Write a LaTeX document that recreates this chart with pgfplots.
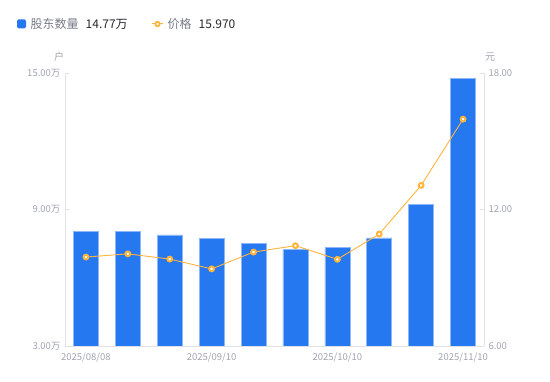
\documentclass[border=0pt]{standalone}
\usepackage{fontspec}
\setmainfont{Noto Sans CJK SC}
\usepackage{pgfplots}
\pgfplotsset{compat=1.18}
\definecolor{barblue}{RGB}{38,120,240}
\definecolor{baredge}{RGB}{140,182,248}
\definecolor{lineorange}{RGB}{255,180,60}
\definecolor{axgray}{RGB}{224,226,232}
\definecolor{tickgray}{RGB}{160,163,176}
\definecolor{leggray}{RGB}{120,123,135}
\definecolor{legdark}{RGB}{40,40,45}
\begin{document}
\begin{tikzpicture}[x=1pt,y=1pt]
\path[use as bounding box] (0,0) rectangle (550,381);
\begin{axis}[
  at={(65pt,35pt)}, anchor=south west, scale only axis,
  width=419pt, height=273pt,
  xmin=-0.5, xmax=9.5, ymin=3, ymax=15,
  axis y line*=left, axis x line*=bottom,
  axis line style={draw=axgray, line width=0.8pt, -},
  ytick={3,9,15}, yticklabels={3.00万,9.00万,15.00万},
  xtick={0,3,6,9}, xticklabels={2025/08/08,2025/09/10,2025/10/10,2025/11/10},
  major tick length=4pt,
  ytick style={draw=axgray, line width=0.8pt},
  xtick style={draw=none},
  tick label style={font=\fontsize{9.5}{11}\selectfont, text=tickgray},
  yticklabel style={xshift=-1pt},
  xticklabel style={yshift=1pt},
  ybar, bar width=25pt,
]
\addplot[fill=barblue, draw=baredge, line width=0.6pt] coordinates {
 (0,8.03) (1,8.03) (2,7.88) (3,7.72) (4,7.50)
 (5,7.23) (6,7.34) (7,7.75) (8,9.21) (9,14.77)};
\end{axis}
\begin{axis}[
  at={(65pt,35pt)}, anchor=south west, scale only axis,
  width=419pt, height=273pt,
  xmin=-0.5, xmax=9.5, ymin=6, ymax=18,
  axis y line*=right, axis x line=none,
  axis line style={draw=axgray, line width=0.8pt, -},
  ytick={6,12,18}, yticklabels={6.00,12.00,18.00},
  major tick length=4pt,
  ytick style={draw=axgray, line width=0.8pt},
  tick label style={font=\fontsize{9.5}{11}\selectfont, text=tickgray},
  yticklabel style={xshift=1pt},
]
\addplot[color=lineorange, line width=0.9pt, mark=*, mark size=2.4pt,
  mark options={fill=white, draw=lineorange, line width=2pt}] coordinates {
 (0,9.91) (1,10.05) (2,9.82) (3,9.39) (4,10.13)
 (5,10.41) (6,9.81) (7,10.92) (8,13.06) (9,15.97)};
\end{axis}
\node[text=tickgray, font=\fontsize{10}{12}\selectfont] at (59,324) {户};
\node[text=tickgray, font=\fontsize{10}{12}\selectfont] at (490,324) {元};
\fill[barblue, rounded corners=1.5pt] (17,352.5) rectangle (26,361.5);
\node[anchor=west, inner sep=0pt, text=leggray, font=\fontsize{12}{14}\selectfont] at (30.5,357) {股东数量};
\node[anchor=west, inner sep=0pt, text=legdark, font=\fontsize{12}{14}\selectfont] at (85.5,357) {14.77万};
\draw[lineorange, line width=1pt] (152,357) -- (163,357);
\draw[lineorange, line width=1.8pt, fill=white] (157.5,357) circle (2.2pt);
\node[anchor=west, inner sep=0pt, text=leggray, font=\fontsize{12}{14}\selectfont] at (167.5,357) {价格};
\node[anchor=west, inner sep=0pt, text=legdark, font=\fontsize{12}{14}\selectfont] at (198.5,357) {15.970};
\end{tikzpicture}
\end{document}
